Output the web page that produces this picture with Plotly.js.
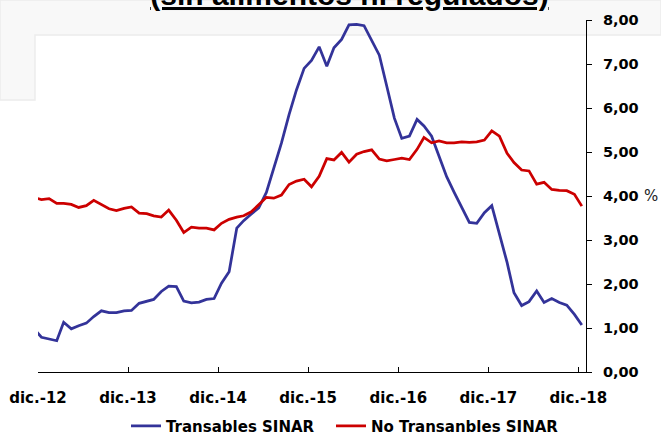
<!DOCTYPE html>
<html>
<head>
<meta charset="utf-8">
<script src="https://cdn.plot.ly/plotly-3.0.1.min.js"></script>
<style>
  html, body { margin: 0; padding: 0; background: #ffffff; }
  #chart { width: 661px; height: 436px; }
</style>
</head>
<body>
<div id="chart"></div>
<script>
// Monthly observations, Nov 2012 .. Dec 2018 (mid-month)
var startYear = 2012, startMonth = 11, nMonths = 74;
var months = [];
for (var i = 0; i < nMonths; i++) {
  var m = startMonth - 1 + i;
  var yy = startYear + Math.floor(m / 12);
  var mm = (m % 12) + 1;
  months.push(yy + '-' + (mm < 10 ? '0' + mm : mm) + '-15');
}

var transables = [
  0.98,
  0.79, 0.75, 0.71, 1.13, 0.98, 1.05, 1.11, 1.26, 1.39, 1.35, 1.35, 1.39,
  1.40, 1.56, 1.61, 1.65, 1.83, 1.95, 1.94, 1.61, 1.57, 1.59, 1.65, 1.67,
  2.02, 2.28, 3.27, 3.44, 3.59, 3.73, 4.08, 4.62, 5.20, 5.85, 6.41, 6.90,
  7.08, 7.39, 6.95, 7.37, 7.56, 7.89, 7.90, 7.87, 7.55, 7.20, 6.50, 5.77,
  5.31, 5.36, 5.74, 5.59, 5.36, 4.91, 4.44, 4.09, 3.76, 3.40, 3.38, 3.62,
  3.78, 3.15, 2.49, 1.80, 1.51, 1.60, 1.84, 1.58, 1.67, 1.58, 1.52, 1.31,
  1.07
];

var noTransables = [
  3.96,
  3.92, 3.94, 3.83, 3.83, 3.81, 3.74, 3.78, 3.90, 3.80, 3.71, 3.67, 3.72,
  3.75, 3.61, 3.60, 3.55, 3.52, 3.68, 3.45, 3.17, 3.29, 3.27, 3.27, 3.23,
  3.38, 3.47, 3.52, 3.55, 3.64, 3.80, 3.97, 3.95, 4.02, 4.26, 4.34, 4.38,
  4.21, 4.45, 4.85, 4.82, 4.99, 4.77, 4.95, 5.01, 5.05, 4.84, 4.80, 4.83,
  4.86, 4.83, 5.06, 5.33, 5.21, 5.25, 5.21, 5.21, 5.23, 5.22, 5.23, 5.27,
  5.48, 5.36, 4.97, 4.76, 4.59, 4.57, 4.27, 4.31, 4.15, 4.13, 4.12, 4.04,
  3.77
];

var xTickVals = ['2012-12-01', '2013-12-01', '2014-12-01', '2015-12-01', '2016-12-01', '2017-12-01', '2018-12-01'];
var xTickText = ['dic.-12', 'dic.-13', 'dic.-14', 'dic.-15', 'dic.-16', 'dic.-17', 'dic.-18'];
var yTickVals = [0, 1, 2, 3, 4, 5, 6, 7, 8];

var seriesNames = ['Transables SINAR', 'No Transanbles SINAR'];
var titleText = '(sin alimentos ni regulados)';

var FONT = 'DejaVu Sans, sans-serif';

var traces = [
  {
    x: months, y: transables, type: 'scatter', mode: 'lines',
    name: seriesNames[0], legendwidth: 160,
    line: { color: '#333399', width: 2.75 }
  },
  {
    x: months, y: noTransables, type: 'scatter', mode: 'lines',
    name: seriesNames[1], legendwidth: 200,
    line: { color: '#cc0000', width: 2.75 }
  }
];

var layout = {
  width: 661, height: 436,
  margin: { l: 38, r: 75, t: 20, b: 64 },
  paper_bgcolor: '#ffffff',
  plot_bgcolor: 'rgba(0,0,0,0)',
  separators: ',.',
  showlegend: true,
  title: {
    text: titleText,
    xref: 'container', yref: 'container',
    x: 0.5287, xanchor: 'center',
    y: 0.9885, yanchor: 'bottom',
    font: { family: 'Liberation Sans, Arial, sans-serif', size: 30, color: '#000000', weight: 'bold', lineposition: 'under' }
  },
  xaxis: {
    type: 'date',
    range: ['2012-12-01', '2019-01-01'],
    tickmode: 'array', tickvals: xTickVals, ticktext: xTickText,
    showgrid: false, zeroline: false,
    showline: true, linecolor: '#000000', linewidth: 1,
    ticks: 'inside', ticklen: 5, tickwidth: 1, tickcolor: '#000000',
    ticklabelstandoff: 12,
    tickfont: { family: FONT, size: 15, color: '#000000', weight: 'bold' }
  },
  yaxis: {
    side: 'right',
    range: [0, 8],
    tickmode: 'array', tickvals: yTickVals,
    tickformat: '.2f',
    showgrid: false, zeroline: false,
    showline: true, linecolor: '#000000', linewidth: 1,
    ticks: 'outside', ticklen: 5, tickwidth: 1, tickcolor: '#000000',
    ticklabelstandoff: 8,
    tickfont: { family: FONT, size: 14.5, color: '#000000', weight: 'bold' }
  },
  legend: {
    orientation: 'h',
    xref: 'container', yref: 'container',
    x: 126 / 661, xanchor: 'left',
    y: 1 - 426 / 436, yanchor: 'middle',
    bgcolor: 'rgba(0,0,0,0)',
    font: { family: FONT, size: 15, color: '#000000', weight: 'bold' }
  },
  shapes: [
    {
      type: 'path', xref: 'paper', yref: 'paper', layer: 'below',
      path: 'M -0.0693,1.0568 L 1.1369,1.0568 L 1.1369,0.9574 L -0.0055,0.9574 L -0.0055,0.7727 L -0.0693,0.7727 Z',
      fillcolor: '#f8f8f8', line: { color: '#ececec', width: 1.5 }
    }
  ],
  annotations: [
    {
      text: '%', xref: 'paper', yref: 'y',
      x: (642 - 38) / 548, xanchor: 'left', y: 4, yanchor: 'middle',
      showarrow: false,
      font: { family: FONT, size: 15, color: '#222222' }
    }
  ]
};

Plotly.newPlot('chart', traces, layout, { displayModeBar: false, staticPlot: true });
</script>
</body>
</html>
